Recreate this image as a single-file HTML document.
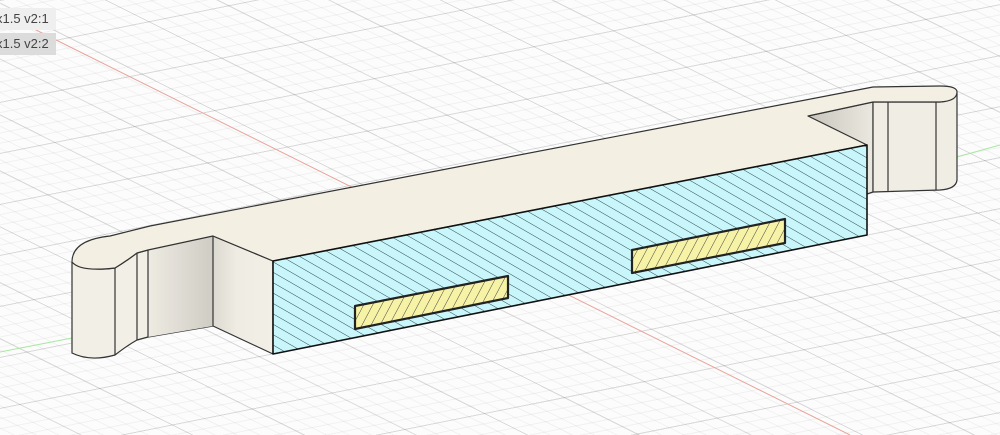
<!DOCTYPE html>
<html><head><meta charset="utf-8"><style>
html,body{margin:0;padding:0;}
body{width:1000px;height:435px;overflow:hidden;position:relative;background:#fafafa;font-family:"Liberation Sans",sans-serif;}
.grid{position:absolute;left:0;top:0;width:1000px;height:435px;
background:
repeating-linear-gradient(206.6deg, rgba(0,0,0,0.10) 0 1px, transparent 1px 50px),
repeating-linear-gradient(168.7deg, rgba(0,0,0,0.10) 0 1px, transparent 1px 50px),
repeating-linear-gradient(206.6deg, rgba(0,0,0,0.045) 0 1px, transparent 1px 10px),
repeating-linear-gradient(168.7deg, rgba(0,0,0,0.045) 0 1px, transparent 1px 10px),#fcfcfc;}
.lab{position:absolute;left:0;width:56px;height:22px;font-size:13px;color:#444;line-height:22px;text-indent:-4px;overflow:hidden;}
svg{position:absolute;left:0;top:0;}
</style></head><body>
<div class="grid"></div>
<svg width="1000" height="435" viewBox="0 0 1000 435">
<defs>
<pattern id="hb" width="9" height="9" patternUnits="userSpaceOnUse" patternTransform="rotate(30)">
<rect width="9" height="9" fill="#c9f6fa"/><line x1="0" y1="0" x2="9" y2="0" stroke="#2c4a50" stroke-width="1"/>
</pattern>
<pattern id="hy" width="8" height="8" patternUnits="userSpaceOnUse" patternTransform="rotate(-62)">
<rect width="8" height="8" fill="#f7f3a6"/><line x1="0" y1="0" x2="8" y2="0" stroke="#444" stroke-width="1"/>
</pattern>
<linearGradient id="wl" x1="0" x2="1"><stop offset="0" stop-color="#eeebe3"/><stop offset="1" stop-color="#cfccc4"/></linearGradient>
<linearGradient id="wr" x1="0" x2="1"><stop offset="0" stop-color="#c8c5bd"/><stop offset="1" stop-color="#ebe8e0"/></linearGradient>
<linearGradient id="sl" x1="0" x2="1"><stop offset="0" stop-color="#dcd9d1"/><stop offset="0.4" stop-color="#efece4"/><stop offset="1" stop-color="#f2efe6"/></linearGradient>
</defs>
<line x1="32" y1="28" x2="850" y2="435" stroke="#e8a49a" stroke-width="1"/>
<line x1="0" y1="352" x2="72" y2="338" stroke="#a6e8a0" stroke-width="1"/>
<line x1="957" y1="157" x2="1000" y2="145" stroke="#a6e8a0" stroke-width="1"/>
<g stroke="#333" stroke-width="1.2" stroke-linejoin="round">
<path d="M72,262 L72,353 Q90,362 115,355 Q128,345 137,340 L148,337 L213,326 L213,236 L148,250 L137,253 Q125,262 115,268 Q90,272 72,262 Z" fill="#f2efe6"/>
<path d="M148,250 L213,236 L213,326 L148,337 Z" fill="url(#wl)" stroke="none"/>
<line x1="115" y1="268" x2="115" y2="355"/>
<line x1="137" y1="253" x2="137" y2="340"/>
<line x1="148" y1="250" x2="148" y2="337"/>
<path d="M213,236 L273,261 L273,354 L213,326 Z" fill="url(#sl)"/>
<path d="M808,116 L873,102 L873,192 L867,194 Z" fill="url(#wr)"/>
<path d="M873,102 L940,102 Q957,100 957,92 L957,180 Q956,189 940,190 L873,192 Z" fill="#f0ede4"/>
<line x1="888" y1="102" x2="888" y2="191"/>
<line x1="936" y1="102" x2="936" y2="190"/>
<path d="M72,262 Q72,240 110,236 L150,226 L873,87 L940,86 Q957,86 957,92 Q957,101 940,102 L873,102 L808,116 L867,145 L273,261 L213,236 L148,250 L137,253 Q125,262 115,268 Q80,272 72,262 Z" fill="#f4efe3"/>
<path d="M273,261 L867,145 L867,235 L273,354 Z" fill="url(#hb)" stroke="#111" stroke-width="1.6"/>
<path d="M355,306 L508,276 L508,298 L355,329 Z" fill="url(#hy)" stroke="#222" stroke-width="2.2"/>
<path d="M632,250 L785,219 L785,243 L632,273 Z" fill="url(#hy)" stroke="#222" stroke-width="2.2"/>
</g>
</svg>
<div class="lab" style="top:8px;background:#efefef;">x1.5 v2:1</div>
<div class="lab" style="top:33px;background:#dcdcdc;">x1.5 v2:2</div>
</body></html>
